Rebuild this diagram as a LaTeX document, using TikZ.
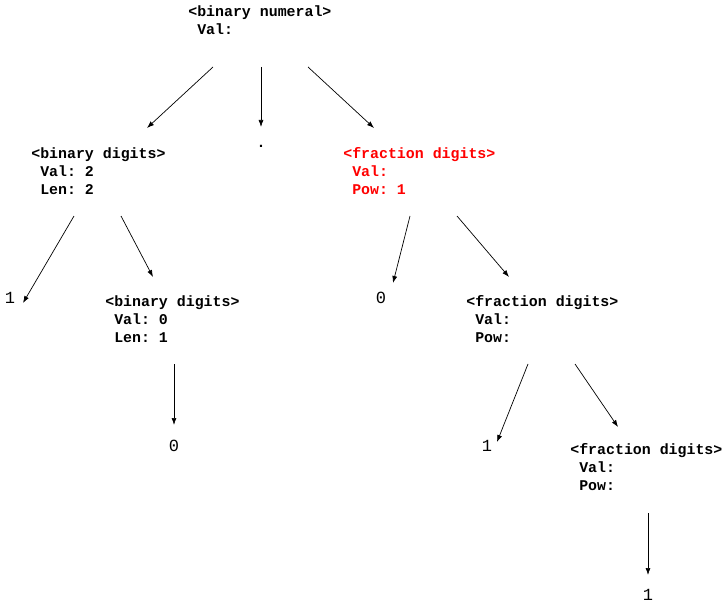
\documentclass[tikz,border=0pt]{standalone}
\usepackage{fontspec}
\setmonofont{Liberation Mono}
\usetikzlibrary{arrows.meta}
\begin{document}
\begin{tikzpicture}[x=1pt, y=-1pt, line width=0.7pt,
    main/.style = {font=\ttfamily\bfseries\fontsize{14.9}{18}\selectfont, align=left, inner sep=0pt, anchor=base west},
    leaf/.style = {font=\ttfamily\fontsize{17}{20}\selectfont, inner sep=0pt},
    arr/.style = {-{Latex[length=7pt,width=5pt]}}]
        \useasboundingbox (0,0) rectangle (727,604);
        \node[main] (1) at (188,35) {<binary numeral>\\\ Val:};
        \node[main] (2) at (31,194) {<binary digits>\\\ Val: 2\\\ Len: 2};
        \node[main, anchor=base] (3) at (261,148) {.};
        \node[main, text=red] (4) at (343,194) {<fraction digits>\\\ Val:\\\ Pow: 1};
        \node[leaf] (5) at (10,298) {1};
        \node[main] (6) at (105,342) {<binary digits>\\\ Val: 0\\\ Len: 1};
        \node[leaf] (7) at (381,298) {0};
        \node[main] (8) at (466,342) {<fraction digits>\\\ Val:\\\ Pow:};
        \node[leaf] (9) at (174,446) {0};
        \node[leaf] (10) at (487,446) {1};
        \node[main] (11) at (570,490) {<fraction digits>\\\ Val:\\\ Pow:};
        \node[leaf] (12) at (648,595) {1};
        \draw[arr] ([shift={(25,32)}]1.base west) -- ([shift={(116,-66)}]2.base west);
        \draw[arr] ([shift={(73,32)}]1.base west) -- ([shift={(0,-21)}]3.base);
        \draw[arr] ([shift={(120,32)}]1.base west) -- ([shift={(31,-66)}]4.base west);
        \draw[arr] ([shift={(43,22)}]2.base west) -- ([shift={(13,5)}]5.center);
        \draw[arr] ([shift={(90,22)}]2.base west) -- ([shift={(48,-65)}]6.base west);
        \draw[arr] ([shift={(69,22)}]6.base west) -- ([shift={(0,-21)}]9.center);
        \draw[arr] ([shift={(67,22)}]4.base west) -- ([shift={(12,-15)}]7.center);
        \draw[arr] ([shift={(114,22)}]4.base west) -- ([shift={(43,-65)}]8.base west);
        \draw[arr] ([shift={(62,22)}]8.base west) -- ([shift={(10,-4)}]10.center);
        \draw[arr] ([shift={(109,22)}]8.base west) -- ([shift={(48,-63)}]11.base west);
        \draw[arr] ([shift={(78,23)}]11.base west) -- ([shift={(0,-20)}]12.center);
    \end{tikzpicture}
\end{document}
